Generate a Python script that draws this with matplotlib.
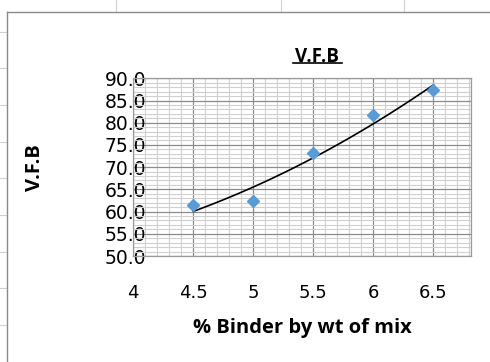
import matplotlib.pyplot as plt
import numpy as np
from matplotlib.lines import Line2D
from matplotlib.ticker import MultipleLocator

plt.rcParams['font.family'] = ['DejaVu Sans']
bold_family = ['Open Sans', 'DejaVu Sans']

# % binder by weight of mix and measured V.F.B
binder = [4.5, 5.0, 5.5, 6.0, 6.5]
vfb = [61.5, 62.3, 73.1, 81.7, 87.4]

x_ticks = [4, 4.5, 5, 5.5, 6, 6.5]
y_ticks = [50, 55, 60, 65, 70, 75, 80, 85, 90]

W, H = 490, 362
fig = plt.figure(figsize=(W / 100, H / 100), dpi=100)

def px(x0, y0, x1, y1, **kw):
    # line in pixel coordinates of the figure (origin top-left)
    fig.add_artist(Line2D([x0 / W, x1 / W], [1 - y0 / H, 1 - y1 / H],
                          transform=fig.transFigure, **kw))

# worksheet cell lines behind the chart
for xc in [116, 281, 404]:
    px(xc, 0, xc, 12, color='#d0d0d0', lw=0.8)
for yc in [31.7, 68.3, 105, 141.7, 178.3, 215, 251.7, 288.3, 325]:
    px(0, yc, 7, yc, color='#d0d0d0', lw=0.8)

# chart area border
px(7.3, 12.3, W, 12.3, color='#8a8a8a', lw=1.0)
px(7.3, 12.3, 7.3, H, color='#8a8a8a', lw=1.0)

ax = fig.add_axes([133.3 / W, 1 - 256 / H, (470.7 - 133.3) / W, (256 - 78.3) / H])
ax.set_xlim(4, 6.81)
ax.set_ylim(50, 90)
ax.set_xticks(x_ticks)
ax.set_xticklabels([f'{v:g}' for v in x_ticks])
ax.set_yticks(y_ticks)
ax.set_yticklabels([f'{v:.1f}' for v in y_ticks])
ax.xaxis.set_minor_locator(MultipleLocator(0.1))
ax.yaxis.set_minor_locator(MultipleLocator(1))
ax.grid(which='minor', color='#cfcfcf', lw=0.8)
ax.grid(which='major', color='#8c8c8c', lw=0.9)
ax.set_axisbelow(True)
ax.tick_params(which='both', length=0, labelcolor='black')
ax.tick_params(axis='y', labelsize=13.5, pad=-9.5)
ax.tick_params(axis='x', labelsize=13, pad=20)
for s in ax.spines.values():
    s.set_color('#9a9a9a')
    s.set_linewidth(0.9)

# second-order polynomial trendline
coef = np.polyfit(binder, vfb, 2)
xs = np.linspace(binder[0], binder[-1], 100)
ax.plot(xs, np.polyval(coef, xs), color='black', lw=1.2, zorder=3)
ax.plot(binder, vfb, 'D', color='#5B9BD5', markersize=6.3, zorder=4)

ax.set_xlabel('% Binder by wt of mix', fontsize=14.5, fontweight='bold',
              family=bold_family, labelpad=12)
fig.text(34.5 / W, 1 - 168 / H, 'V.F.B', rotation=90, fontsize=14.5,
         fontweight='bold', family=bold_family, ha='center', va='center')
fig.text(317 / W, 1 - 61.5 / H, 'V.F.B', fontsize=13.5, fontweight='bold',
         family=bold_family, ha='center', va='baseline')
px(292.5, 63.3, 342, 63.3, color='black', lw=1.2)

fig.savefig('out.png', dpi=100)
